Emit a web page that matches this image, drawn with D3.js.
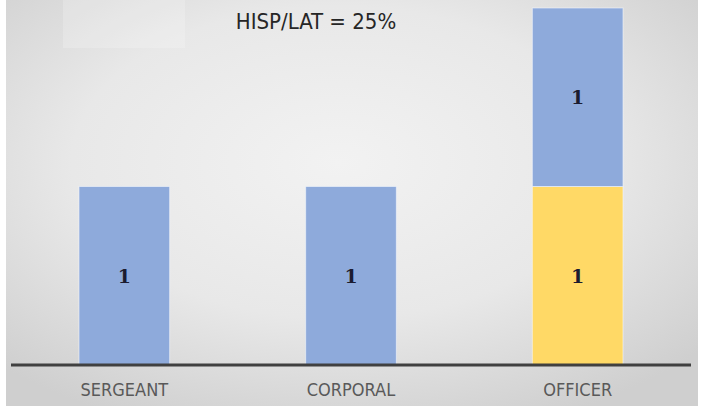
<!DOCTYPE html>
<html>
<head>
<meta charset="utf-8">
<script src="https://cdn.jsdelivr.net/npm/d3@7"></script>
<style>
  body { margin: 0; background: #fff; }
  svg { display: block; }
  .cat { font-family: "DejaVu Sans", sans-serif; font-stretch: condensed; fill: #595959; }
</style>
</head>
<body>
<div id="chart"></div>
<script>
// data
var categories = ["SERGEANT", "CORPORAL", "OFFICER"];
var seriesNames = ["HISP/LAT", "OTHER"];
var hispValues = [0, 0, 1];
var otherValues = [1, 1, 1];
var yDomain = [0, 2];
var titleText = "HISP/LAT = 25%";

var W = 707, H = 406;
var left = 11, right = 691, baseY = 365, topY = 8;

var svg = d3.select("#chart").append("svg")
    .attr("width", W)
    .attr("height", H);

// background gradient
var defs = svg.append("defs");
var grad = defs.append("radialGradient")
    .attr("id", "bg")
    .attr("cx", "48%").attr("cy", "40%").attr("r", "70%");
grad.append("stop").attr("offset", "0%").attr("stop-color", "#f2f2f2");
grad.append("stop").attr("offset", "55%").attr("stop-color", "#e8e8e8");
grad.append("stop").attr("offset", "100%").attr("stop-color", "#cfcfcf");

svg.append("rect")
    .attr("x", 6).attr("y", 0)
    .attr("width", 692).attr("height", H)
    .attr("fill", "url(#bg)");

// faint leftover legend box
svg.append("rect")
    .attr("x", 63).attr("y", 0)
    .attr("width", 122).attr("height", 48)
    .attr("fill", "#ffffff")
    .attr("opacity", 0.2);

var x = d3.scaleBand()
    .domain(categories)
    .range([left, right])
    .paddingInner(0.6)
    .paddingOuter(0.3);

var y = d3.scaleLinear()
    .domain(yDomain)
    .range([baseY, topY]);

var color = d3.scaleOrdinal()
    .domain(seriesNames)
    .range(["#ffd966", "#8eaadb"]);

var rows = categories.map(function(c, i) {
  return { cat: c, "HISP/LAT": hispValues[i], "OTHER": otherValues[i] };
});

var stacked = d3.stack().keys(seriesNames)(rows);

var layers = svg.selectAll("g.layer")
    .data(stacked)
  .enter().append("g")
    .attr("class", "layer")
    .attr("fill", function(d) { return color(d.key); });

layers.selectAll("rect")
    .data(function(d) { return d.filter(function(s) { return s[1] - s[0] > 0; }); })
  .enter().append("rect")
    .attr("x", function(d) { return x(d.data.cat); })
    .attr("y", function(d) { return y(d[1]); })
    .attr("width", x.bandwidth())
    .attr("height", function(d) { return y(d[0]) - y(d[1]); })
    .attr("stroke", "#f4f6fb")
    .attr("stroke-opacity", 0.6)
    .attr("stroke-width", 1);

// value labels
layers.selectAll("text")
    .data(function(d) { return d.filter(function(s) { return s[1] - s[0] > 0; }); })
  .enter().append("text")
    .attr("x", function(d) { return x(d.data.cat) + x.bandwidth() / 2; })
    .attr("y", function(d) { return (y(d[0]) + y(d[1])) / 2; })
    .attr("dy", "0.36em")
    .attr("text-anchor", "middle")
    .attr("fill", "#1c1c30")
    .style("font-family", "'DejaVu Serif', serif")
    .style("font-weight", "bold")
    .style("font-size", "19px")
    .text(function(d) { return d[1] - d[0]; });

// baseline axis
var xAxis = svg.append("g")
    .attr("transform", "translate(0," + baseY + ")")
    .call(d3.axisBottom(x).tickSize(0).tickPadding(18));
xAxis.select(".domain")
    .attr("d", "M" + left + ",0H" + right)
    .attr("stroke", "#404040")
    .attr("stroke-width", 3);
xAxis.selectAll("text")
    .attr("class", "cat")
    .style("font-size", "18px");

// title
svg.append("text")
    .attr("x", 316)
    .attr("y", 29)
    .attr("text-anchor", "middle")
    .attr("fill", "#262626")
    .style("font-family", "'DejaVu Sans', sans-serif")
    .style("font-stretch", "condensed")
    .style("font-size", "22px")
    .text(titleText);
</script>
</body>
</html>
